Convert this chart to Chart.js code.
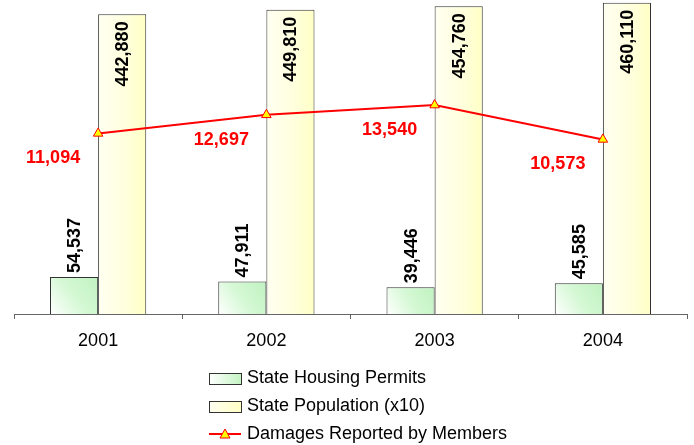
<!DOCTYPE html>
<html lang="en">
<head>
  <meta charset="UTF-8">
  <title>Housing Permits, Population and Damages</title>
  <script src="https://cdn.jsdelivr.net/npm/chart.js"></script>
  <style>
    html, body { margin: 0; padding: 0; background: #fff; }
    #wrap { width: 694px; height: 445px; }
  </style>
</head>
<body>
  <div id="wrap"><canvas id="permitChart" width="694" height="445"></canvas></div>

  <script>
    const years = ['2001', '2002', '2003', '2004'];
    const housingPermits = [54537, 47911, 39446, 45585];
    const population = [442880, 449810, 454760, 460110];
    const damages = [11094, 12697, 13540, 10573];

    const FONT = "Arial, 'Liberation Sans', sans-serif";
    const fmt = v => v.toLocaleString('en-US');

    // gradient for a single bar, built from the scales
    function barFill(ctx, kind) {
      const plain = kind === 'green' ? '#d4f8d4' : '#ffffd8';
      const chart = ctx.chart;
      const xs = chart.scales.x;
      const ys = chart.scales.y;
      if (!xs || !ys || ctx.dataIndex === undefined) return plain;
      const cx = xs.getPixelForValue(ctx.dataIndex);
      const half = xs.width / years.length * 0.572 / 2;
      const top = ys.getPixelForValue(ctx.raw), bottom = ys.getPixelForValue(0);
      if (![cx, half, top, bottom].every(Number.isFinite)) return plain;
      const g = chart.ctx;
      if (kind === 'green') {
        const grad = g.createLinearGradient(cx - half, bottom, cx, top);
        grad.addColorStop(0, '#ffffff');
        grad.addColorStop(0.5, '#d4f8d4');
        grad.addColorStop(1, '#c0f2c0');
        return grad;
      }
      const grad = g.createLinearGradient(cx, 0, cx + half, 0);
      grad.addColorStop(0, '#fffff2');
      grad.addColorStop(0.6, '#ffffdc');
      grad.addColorStop(1, '#ffffc4');
      return grad;
    }

    const labelPlugin = {
      id: 'valueLabels',
      afterDatasetsDraw(chart) {
        const c = chart.ctx;
        c.save();
        c.font = 'bold 18px ' + FONT;
        // rotated bar labels
        [0, 1].forEach(di => {
          const meta = chart.getDatasetMeta(di);
          meta.data.forEach((bar, i) => {
            const v = chart.data.datasets[di].data[i];
            c.save();
            c.translate(bar.x + 1, bar.y);
            c.rotate(-Math.PI / 2);
            c.fillStyle = '#000';
            c.textBaseline = 'middle';
            if (di === 0) {
              c.textAlign = 'left';
              c.fillText(fmt(v), 4, 0);
            } else {
              c.textAlign = 'right';
              c.fillText(fmt(v), -7, 0);
            }
            c.restore();
          });
        });
        // line labels
        const lm = chart.getDatasetMeta(2);
        c.fillStyle = '#ff0000';
        c.textAlign = 'center';
        c.textBaseline = 'middle';
        lm.data.forEach((pt, i) => {
          c.fillText(fmt(damages[i]), pt.x - 45, pt.y + 25);
        });
        c.restore();
      }
    };

    const legendPlugin = {
      id: 'sideLegend',
      afterDraw(chart) {
        const c = chart.ctx;
        const x0 = 209, rows = [378, 406, 434];
        c.save();
        c.font = '18px ' + FONT;
        c.textBaseline = 'middle';
        c.textAlign = 'left';
        chart.data.datasets.forEach((ds, i) => {
          const y = rows[i];
          if (i < 2) {
            let grad = c.createLinearGradient(x0, 0, x0 + 32, 0);
            if (i === 0) {
              grad.addColorStop(0, '#ffffff'); grad.addColorStop(1, '#c4f3c4');
            } else {
              grad.addColorStop(0, '#fffff2'); grad.addColorStop(1, '#ffffc4');
            }
            c.fillStyle = grad;
            c.fillRect(x0, y - 5, 32, 11);
            c.strokeStyle = '#333';
            c.lineWidth = 1;
            c.strokeRect(x0 + 0.5, y - 5 + 0.5, 32, 11);
          } else {
            c.strokeStyle = '#ff0000';
            c.lineWidth = 2;
            c.beginPath();
            c.moveTo(x0, y); c.lineTo(x0 + 32, y);
            c.stroke();
            c.beginPath();
            c.moveTo(x0 + 16, y - 5);
            c.lineTo(x0 + 21, y + 4);
            c.lineTo(x0 + 11, y + 4);
            c.closePath();
            c.fillStyle = '#ffff00';
            c.fill();
            c.lineWidth = 1;
            c.stroke();
          }
          c.fillStyle = '#000';
          c.fillText(ds.label, x0 + 38, y);
        });
        c.restore();
      }
    };

    new Chart(document.getElementById('permitChart'), {
      data: {
        labels: years,
        datasets: [
          {
            type: 'bar',
            label: 'State Housing Permits',
            data: housingPermits,
            yAxisID: 'y',
            backgroundColor: ctx => barFill(ctx, 'green'),
            borderColor: '#333',
            borderWidth: 1,
            categoryPercentage: 0.572,
            barPercentage: 1,
            clip: false,
            order: 2
          },
          {
            type: 'bar',
            label: 'State Population (x10)',
            data: population,
            yAxisID: 'y',
            backgroundColor: ctx => barFill(ctx, 'yellow'),
            borderColor: '#333',
            borderWidth: 1,
            categoryPercentage: 0.572,
            barPercentage: 1,
            clip: false,
            order: 2
          },
          {
            type: 'line',
            label: 'Damages Reported by Members',
            data: damages,
            yAxisID: 'y1',
            borderColor: '#ff0000',
            borderWidth: 2,
            pointStyle: 'triangle',
            pointRadius: 5.5,
            pointBackgroundColor: '#ffff00',
            pointBorderColor: '#ff0000',
            pointBorderWidth: 1,
            tension: 0,
            order: 1
          }
        ]
      },
      options: {
        responsive: false,
        animation: false,
        layout: { padding: { left: 14, right: 7, top: 0, bottom: 91 } },
        plugins: {
          legend: { display: false },
          tooltip: { enabled: false }
        },
        scales: {
          x: {
            offset: true,
            grid: {
              offset: true,
              drawOnChartArea: false,
              drawTicks: true,
              tickLength: 5,
              color: '#666'
            },
            border: { display: true, color: '#666', width: 1 },
            ticks: { color: '#000', font: { family: FONT, size: 18 }, padding: 11 },
            afterFit(scale) { scale.height = 40; }
          },
          y: {
            display: false,
            min: 0,
            max: 454500
          },
          y1: {
            display: false,
            position: 'right',
            min: -4500,
            max: 22050
          }
        }
      },
      plugins: [labelPlugin, legendPlugin]
    });
  </script>
</body>
</html>
